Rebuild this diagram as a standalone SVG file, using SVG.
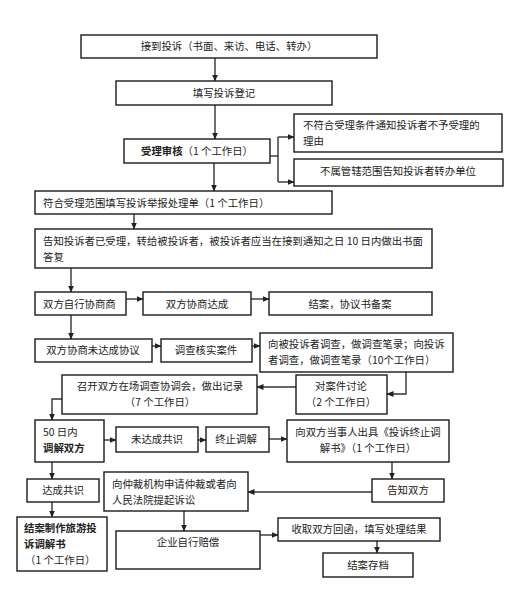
<svg xmlns="http://www.w3.org/2000/svg" width="521" height="592" viewBox="0 0 521 592">
<defs>
<marker id="ah" markerWidth="7" markerHeight="6" refX="6.5" refY="3" orient="auto" markerUnits="userSpaceOnUse">
<path d="M0,0 L7,3 L0,6 Z" fill="#222"/>
</marker>
<style>
rect{fill:#fff;stroke:#1a1a1a;stroke-width:1.4}
text{font-family:"Noto Sans CJK SC","Noto Sans",sans-serif;font-size:10.4px;fill:#222}
.c{text-anchor:middle}
.b{font-weight:bold}
#connectors line,#connectors polyline{stroke:#333;stroke-width:1.4;fill:none}
.a{marker-end:url(#ah)}
</style>
</defs>
<rect x="0" y="0" width="521" height="592" style="fill:#fff;stroke:none"/>
<g id="connectors">
<line class="a" x1="215" y1="58" x2="215" y2="81"/>
<line class="a" x1="215" y1="105" x2="215" y2="139"/>
<polyline points="270,156 278,156"/>
<line x1="278" y1="137" x2="278" y2="182"/>
<line class="a" x1="278" y1="137" x2="294" y2="137"/>
<line class="a" x1="278" y1="182" x2="294" y2="182"/>
<line class="a" x1="214" y1="163" x2="214" y2="191"/>
<line class="a" x1="134" y1="214" x2="134" y2="229"/>
<line class="a" x1="71" y1="268" x2="71" y2="292"/>
<line class="a" x1="126" y1="299" x2="143" y2="299"/>
<line class="a" x1="251" y1="299" x2="269" y2="299"/>
<line class="a" x1="71" y1="315" x2="71" y2="339"/>
<line class="a" x1="152" y1="346" x2="161" y2="346"/>
<line class="a" x1="252" y1="346" x2="260" y2="346"/>
<polyline class="a" points="406,372 406,394 387,394"/>
<line class="a" x1="296" y1="387" x2="257" y2="387"/>
<polyline class="a" points="62,399 52,399 52,420"/>
<line class="a" x1="104" y1="440" x2="116" y2="440"/>
<line class="a" x1="198" y1="440" x2="206" y2="440"/>
<line class="a" x1="269" y1="439" x2="287" y2="439"/>
<line class="a" x1="392" y1="462" x2="392" y2="479"/>
<line class="a" x1="372" y1="492" x2="248" y2="492"/>
<line class="a" x1="184" y1="511" x2="184" y2="531"/>
<line class="a" x1="260" y1="535" x2="278" y2="535"/>
<line class="a" x1="377" y1="541" x2="377" y2="553"/>
<line class="a" x1="52" y1="462" x2="52" y2="479"/>
<line class="a" x1="52" y1="502" x2="52" y2="517"/>
</g>
<g id="n1"><rect x="81" y="35" width="296" height="23"/><text class="c" x="229" y="50">接到投诉（书面、来访、电话、转办）</text></g>
<g id="n2"><rect x="116" y="81" width="216" height="24"/><text class="c" x="224" y="97">填写投诉登记</text></g>
<g id="n3"><rect x="124" y="139" width="146" height="24"/><text class="c" x="197" y="155"><tspan class="b">受理审核</tspan>（1 个工作日）</text></g>
<g id="n4"><rect x="294" y="114" width="208" height="38"/><text x="303" y="129">不符合受理条件通知投诉者不予受理的</text><text x="303" y="145">理由</text></g>
<g id="n5"><rect x="294" y="159" width="209" height="27"/><text class="c" x="398" y="175">不属管辖范围告知投诉者转办单位</text></g>
<g id="n6"><rect x="35" y="191" width="297" height="23"/><text x="43" y="207">符合受理范围填写投诉举报处理单（1 个工作日）</text></g>
<g id="n7"><rect x="35" y="229" width="397" height="39"/><text x="43" y="245">告知投诉者已受理，转给被投诉者，被投诉者应当在接到通知之日 10 日内做出书面</text><text x="43" y="261">答复</text></g>
<g id="n8"><rect x="35" y="292" width="91" height="23"/><text x="43" y="308">双方自行协商商</text></g>
<g id="n9"><rect x="143" y="292" width="108" height="23"/><text class="c" x="197" y="308">双方协商达成</text></g>
<g id="n10"><rect x="269" y="292" width="163" height="23"/><text class="c" x="350" y="308">结案，协议书备案</text></g>
<g id="n11"><rect x="35" y="339" width="117" height="23"/><text class="c" x="93" y="354">双方协商未达成协议</text></g>
<g id="n12"><rect x="161" y="339" width="91" height="23"/><text class="c" x="206" y="354">调查核实案件</text></g>
<g id="n13"><rect x="260" y="333" width="193" height="39"/><text x="268" y="348">向被投诉者调查，做调查笔录；向投诉</text><text x="268" y="364">者调查，做调查笔录（10个工作日）</text></g>
<g id="n14"><rect x="296" y="375" width="91" height="39"/><text class="c" x="341" y="390">对案件讨论</text><text class="c" x="341" y="406">（2 个工作日）</text></g>
<g id="n15"><rect x="62" y="375" width="195" height="39"/><text class="c" x="160" y="390">召开双方在场调查协调会，做出记录</text><text class="c" x="160" y="406">（7 个工作日）</text></g>
<g id="n16"><rect x="35" y="420" width="69" height="42"/><text x="43" y="436">50 日内</text><text class="b" x="43" y="452">调解双方</text></g>
<g id="n17"><rect x="116" y="427" width="82" height="25"/><text class="c" x="157" y="443">未达成共识</text></g>
<g id="n18"><rect x="206" y="427" width="63" height="25"/><text class="c" x="236" y="443">终止调解</text></g>
<g id="n19"><rect x="287" y="420" width="162" height="42"/><text class="c" x="368" y="436">向双方当事人出具《投诉终止调</text><text class="c" x="368" y="452">解书》（1 个工作日）</text></g>
<g id="n20"><rect x="372" y="479" width="72" height="23"/><text class="c" x="408" y="494">告知双方</text></g>
<g id="n21"><rect x="104" y="472" width="144" height="39"/><text x="112" y="488">向仲裁机构申请仲裁或者向</text><text x="112" y="504">人民法院提起诉讼</text></g>
<g id="n22"><rect x="116" y="531" width="144" height="38"/><text class="c" x="188" y="546">企业自行赔偿</text></g>
<g id="n23"><rect x="278" y="518" width="162" height="23"/><text class="c" x="359" y="533">收取双方回函，填写处理结果</text></g>
<g id="n24"><rect x="323" y="553" width="90" height="24"/><text class="c" x="368" y="569">结案存档</text></g>
<g id="n25"><rect x="27" y="479" width="72" height="23"/><text class="c" x="63" y="494">达成共识</text></g>
<g id="n26"><rect x="17" y="517" width="90" height="54"/><text class="b" x="24" y="532">结案制作旅游投</text><text class="b" x="24" y="548">诉调解书</text><text x="25" y="564">（1 个工作日）</text></g>
</svg>
